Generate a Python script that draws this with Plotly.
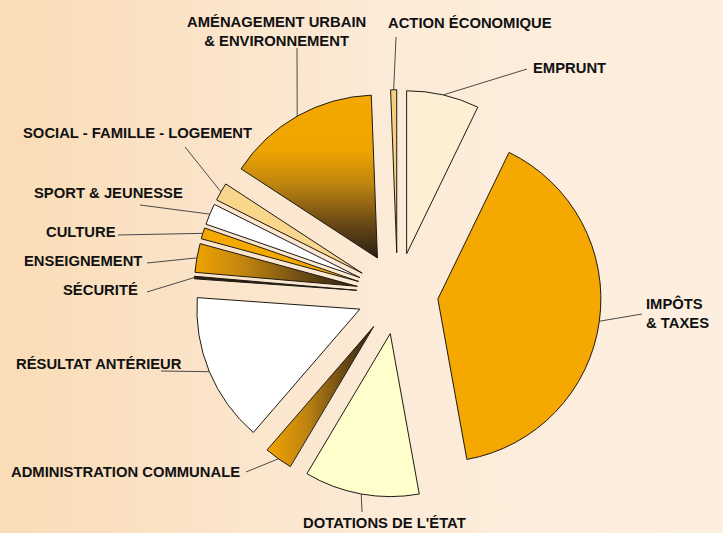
import numpy as np
import plotly.graph_objects as go

# ---------------- data ----------------
categories = ["EMPRUNT", "IMPÔTS & TAXES", "DOTATIONS DE L'ÉTAT", "ADMINISTRATION COMMUNALE",
              "RÉSULTAT ANTÉRIEUR", "SÉCURITÉ", "ENSEIGNEMENT", "CULTURE", "SPORT & JEUNESSE",
              "SOCIAL - FAMILLE - LOGEMENT", "AMÉNAGEMENT URBAIN & ENVIRONNEMENT", "ACTION ÉCONOMIQUE"]
values = [7.2, 40.0, 11.4, 2.8, 14.8, 0.25, 2.85, 1.1, 2.1, 1.8, 15.2, 0.6]
label_text = ["EMPRUNT", "IMPÔTS<br>& TAXES", "DOTATIONS DE L'ÉTAT", "ADMINISTRATION COMMUNALE",
              "RÉSULTAT ANTÉRIEUR", "SÉCURITÉ", "ENSEIGNEMENT", "CULTURE", "SPORT & JEUNESSE",
              "SOCIAL - FAMILLE - LOGEMENT", "AMÉNAGEMENT URBAIN<br>& ENVIRONNEMENT", "ACTION ÉCONOMIQUE"]

# ---------------- styles / layout ----------------
slice_colors = ["#FCEFD3", "#F5A800", "#FFFFCC", None, "#FFFFFF", "#2A2010", None,
                "#F5A800", "#FFFFFF", "#F8D68C", None, "#F7CF80"]
# gradient fills for some slices: (type, colorscale, start, stop)
gradients = {
    3: ("horizontal", [[0, "#F2A300"], [0.35, "#C08410"], [0.7, "#6A4A14"], [1, "#2A1E10"]], 268, 376),
    6: ("horizontal", [[0, "#EFA300"], [0.3, "#C08410"], [0.65, "#6E4C14"], [1, "#2A1E10"]], 196, 358),
    10: ("vertical", [[0, "#2B2116"], [0.22, "#6E4C14"], [0.45, "#C08610"], [0.65, "#F0A400"], [1, "#F5A800"]], 257, 93),
}
# label placement: (x, y, xanchor, align, leader-line end x, y)
label_pos = [
    (531, 68, "left", "left", 527, 69),
    (644, 313, "left", "left", 642, 314),
    (301, 523, "left", "left", 362, 512),
    (9, 472, "left", "left", 246, 472),
    (14, 364, "left", "left", 161, 371),
    (61, 290, "left", "left", 147, 292),
    (22, 261, "left", "left", 147, 263),
    (44, 232, "left", "left", 118, 235),
    (32, 193, "left", "left", 140, 205),
    (21, 133, "left", "left", 185, 147),
    (276, 31, "center", "center", 297, 48),
    (386, 23, "left", "left", 396, 37),
]

W, H = 723, 533
CX, CY = 397.5, 293.5   # pie centre (px)
R = 163.0               # radius (px)
PULL = 0.25             # explode fraction
box = 2 * R * (1 + PULL)
dom_x = [(CX - box / 2) / W, (CX + box / 2) / W]
dom_y = [1 - (CY + box / 2) / H, 1 - (CY - box / 2) / H]

vals = np.array(values, dtype=float)
frac = vals / vals.sum()
ends = np.cumsum(frac) * 2 * np.pi
starts = ends - frac * 2 * np.pi
mids = (starts + ends) / 2


def unit(t):
    return np.sin(t), -np.cos(t)


fig = go.Figure()

# background gradient
fig.add_trace(go.Scatter(
    x=[0, W, W, 0, 0], y=[0, 0, H, H, 0], mode="lines", fill="toself",
    line=dict(width=0), hoverinfo="skip", showlegend=False,
    fillgradient=dict(type="horizontal",
                      colorscale=[[0, "#FADCB6"], [0.3, "#FBE4CA"], [0.55, "#FCEBD8"], [1, "#FDEFE0"]],
                      start=0, stop=W)))

# gradient slice fills (underneath the transparent pie slices)
for i, (gtype, cs, gs, ge) in gradients.items():
    ux, uy = unit(mids[i])
    px, py = CX + PULL * R * ux, CY + PULL * R * uy
    th = np.linspace(starts[i], ends[i], 80)
    xs = [px] + list(px + R * np.sin(th)) + [px]
    ys = [py] + list(py - R * np.cos(th)) + [py]
    fig.add_trace(go.Scatter(x=xs, y=ys, mode="lines", fill="toself", line=dict(width=0),
                             hoverinfo="skip", showlegend=False,
                             fillgradient=dict(type=gtype, colorscale=cs, start=gs, stop=ge)))

# leader lines
lx, ly = [], []
for i in range(len(values)):
    ux, uy = unit(mids[i])
    ax_, ay_ = CX + (PULL * R + R) * ux, CY + (PULL * R + R) * uy
    lx += [label_pos[i][4], ax_, None]
    ly += [label_pos[i][5], ay_, None]
fig.add_trace(go.Scatter(x=lx, y=ly, mode="lines", line=dict(color="#4A4A4A", width=1),
                         hoverinfo="skip", showlegend=False))

# pie
pie_colors = [c if c is not None else "rgba(0,0,0,0)" for c in slice_colors]
fig.add_trace(go.Pie(
    labels=categories, values=values, sort=False, direction="clockwise", rotation=0,
    pull=[PULL] * len(values), textinfo="none", showlegend=False,
    marker=dict(colors=pie_colors, line=dict(color="#1E1A14", width=1)),
    domain=dict(x=dom_x, y=dom_y), hoverinfo="label+percent"))

for i, t in enumerate(label_text):
    x, y, xa, al, _, _ = label_pos[i]
    fig.add_annotation(x=x, y=y, xref="x", yref="y", text=t, showarrow=False,
                       xanchor=xa, yanchor="middle", align=al,
                       font=dict(family="Liberation Sans, Arial, sans-serif", size=14.8,
                                 color="#111111", weight="bold"))

fig.update_layout(
    width=W, height=H, margin=dict(l=0, r=0, t=0, b=0),
    paper_bgcolor="#FCEBD6", plot_bgcolor="rgba(0,0,0,0)",
    xaxis=dict(range=[0, W], visible=False, fixedrange=True),
    yaxis=dict(range=[H, 0], visible=False, fixedrange=True),
)

fig.write_html("out.html", config={"displayModeBar": False},
               post_script="document.body.style.margin='0';")
